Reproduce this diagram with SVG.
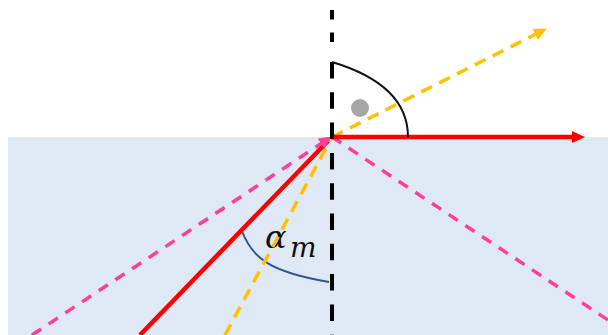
<svg xmlns="http://www.w3.org/2000/svg" width="608" height="335" viewBox="0 0 608 335">
<style>
.pink{stroke:#FF3E9A;stroke-width:3.5;stroke-dasharray:11 9;fill:none}
.yellow{stroke:#FFC000;stroke-width:3.5;stroke-dasharray:12 8;fill:none}
.red{stroke:#FF0000;stroke-width:4.5;fill:none}
.axis{stroke:#000;stroke-width:4;fill:none}
.lbl{font-family:"DejaVu Serif","Liberation Serif",serif;font-style:italic;fill:#111}
</style>
<defs>
<marker id="ahRed" markerUnits="userSpaceOnUse" markerWidth="14" markerHeight="14" refX="3" refY="7" orient="auto">
<path d="M0,1 L13,7 L0,13 z" fill="#FF0000"/>
</marker>
<marker id="ahYel" markerUnits="userSpaceOnUse" markerWidth="14" markerHeight="14" refX="3" refY="7" orient="auto">
<path d="M0,1 L13,7 L0,13 z" fill="#FFC000"/>
</marker>
<marker id="ahPink" markerUnits="userSpaceOnUse" markerWidth="14" markerHeight="14" refX="12" refY="7" orient="auto">
<path d="M0,1 L13,7 L0,13 z" fill="#FF3E9A"/>
</marker>
</defs>
<g id="medium">
<rect x="8" y="137" width="600" height="198" fill="#DEE9F5"/>
</g>
<g id="critical-angle">
<path d="M242,231 C252,258 270,272 329,282" fill="none" stroke="#2F5597" stroke-width="2"/>
<text class="lbl" x="265" y="248" font-size="32">α<tspan x="290" y="257" font-size="28">m</tspan></text>
</g>
<g id="connectors">
<line id="reflected-right" class="pink" x1="332" y1="137" x2="608" y2="320"/>
<line id="yellow-in" class="yellow" x1="225" y1="335" x2="332" y2="137"/>
<line id="yellow-out" class="yellow" x1="332" y1="137" x2="538" y2="33" marker-end="url(#ahYel)"/>
<line id="red-in" class="red" x1="140" y1="335" x2="328" y2="141"/>
<line id="pink-in" class="pink" x1="32" y1="335" x2="331" y2="137" marker-end="url(#ahPink)"/>
<line id="red-out" class="red" x1="332" y1="137" x2="575" y2="137" marker-end="url(#ahRed)"/>
<line id="normal-top" class="axis" x1="332" y1="10" x2="332" y2="42" stroke-dasharray="9.5 13"/>
<line id="normal" class="axis" x1="332" y1="62" x2="332" y2="335" stroke-dasharray="16.5 13.8"/>
</g>
<g id="right-angle">
<path d="M332,62 C372,74 408,95 408,137" fill="none" stroke="#111" stroke-width="2"/>
<circle cx="360" cy="108" r="9" fill="#A6A6A6"/>
</g>
</svg>
